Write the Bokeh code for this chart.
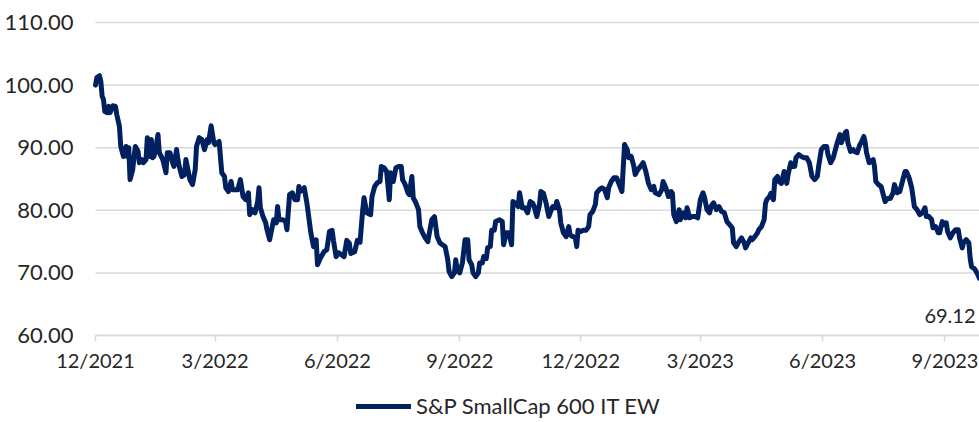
import pandas as pd
from bokeh.plotting import figure
from bokeh.models import (ColumnDataSource, Range1d, FixedTicker, CustomJSTickFormatter,
                          NumeralTickFormatter, Legend, LegendItem, Label)
from bokeh.embed import file_html
from bokeh.resources import INLINE

series_name = "S&P SmallCap 600 IT EW"
start_date = "2021-12-01"

# days after start_date
day_offsets = [
    0, 1, 3, 4, 5, 6, 7, 9, 10, 11, 13, 15, 16, 18, 19, 21, 23, 24, 25, 26, 28, 29, 30, 32, 33, 35, 36, 38, 39,
    41, 42, 43, 44, 46, 47, 48, 50, 51, 53, 54, 56, 58, 59, 61, 62, 63, 65, 67, 68, 70, 71, 73, 75, 76, 78, 80,
    82, 84, 85, 87, 89, 90, 93, 95, 97, 98, 100, 102, 103, 105, 107, 109, 111, 113, 115, 116, 118, 120, 122,
    123, 124, 126, 128, 129, 131, 133, 134, 136, 137, 138, 141, 143, 144, 146, 148, 150, 152, 153, 154, 157,
    159, 161, 162, 164, 166, 167, 169,
    172, 174, 176, 178, 179, 181, 183, 185, 187, 189, 191, 192, 195, 197, 199, 201, 202, 204, 207, 208, 210,
    212, 214, 215, 217, 219, 221, 222, 224, 226, 228, 230, 231, 233, 235, 236, 238, 239, 241, 243, 244, 246,
    248, 250, 252, 253, 255, 257, 259, 261, 263, 265, 266, 268, 270, 271, 272, 274, 276, 278, 280, 281, 283,
    284, 286, 288, 289, 291, 292, 294, 295, 297, 298, 300, 301, 304, 306, 307, 309, 311, 313, 314, 316, 318,
    319, 321, 323, 325, 327, 329, 330, 332, 334, 335, 337, 339, 341, 342, 344, 346, 347, 349, 350, 352, 354,
    356, 357, 359, 361, 362, 363, 365, 367, 369, 371, 372, 374, 376, 377, 379, 381, 383, 385, 386, 388, 390,
    392, 394, 396, 397, 398, 400, 401, 403, 405, 406, 408, 410,
    412, 414, 416, 418, 420, 421, 424, 426, 427, 429, 431, 433, 434, 435, 437, 439, 440, 442, 444, 445, 447,
    449, 451, 453, 455, 457, 458, 460, 462, 463, 465, 467, 469, 471, 473, 475, 477, 479, 480, 482, 484, 486,
    488, 489, 491, 493, 494, 496, 498, 499, 501, 503, 504, 505, 507, 508, 510, 511, 513, 514, 516, 518, 520,
    521, 523, 524, 526, 527, 529, 531, 533, 535, 537, 539, 541, 543, 544, 546, 548, 550, 551, 553, 555, 556,
    558, 560, 561, 562, 564, 565, 566, 568, 570, 571, 573, 575, 576, 578, 579, 580, 582, 585, 586, 587, 589,
    591, 593, 594, 596, 598, 600, 601, 603, 605, 607, 609, 610, 612, 614, 616, 618, 620, 622, 624, 625, 627,
    629, 630, 632, 634, 635, 637, 639, 640, 641, 643, 645, 647, 649, 650, 652, 653, 655, 657, 658, 659, 661,
    662, 664, 665,
]

values = [
    100.0, 101.2, 101.5, 100.6, 98.2, 97.7, 95.8, 95.6, 96.6, 95.6, 96.7, 96.6, 95.3, 93.4, 90.2, 88.6, 90.2,
    88.6, 90.0, 84.9, 86.5, 88.6, 90.2, 89.4, 87.6, 88.1, 87.6, 88.1, 91.6,
    88.6, 91.3, 88.4, 88.6, 90.8, 92.1, 89.2, 88.4, 87.8, 86.0, 89.2, 89.2, 87.6, 87.0, 89.7, 88.1, 87.0, 85.4,
    85.7, 88.1, 86.0, 84.9, 84.1, 86.5, 90.2, 91.6, 91.3,
    89.7, 91.3, 90.8, 93.5, 90.8, 90.5, 91.0, 86.0, 85.4, 83.6, 83.0, 84.6, 83.3, 83.3, 83.3, 84.9, 82.2, 81.7,
    82.8, 79.3, 80.1, 79.6, 81.4,
    83.6, 80.4, 79.0, 78.0, 76.9, 75.3, 77.4, 78.5, 78.0, 80.6, 78.5, 78.5, 78.2, 76.9, 82.5, 82.8, 81.7, 81.7,
    83.8, 83.0, 83.6,
    81.2, 78.0, 76.4, 74.2, 75.3, 71.3, 72.3,
    73.4, 73.7, 76.6, 76.8, 75.2, 72.6, 73.2, 72.9, 72.6, 75.2, 74.7, 73.1, 73.4, 75.2, 74.9, 80.0, 82.0, 79.6,
    79.3, 82.2, 83.8,
    84.4, 84.6, 87.0, 86.8, 86.2, 81.7, 86.0, 84.6, 86.8, 87.0, 87.0, 84.9, 84.1, 82.8, 82.5, 85.4, 82.0, 81.2,
    80.1, 77.4, 76.4,
    75.6, 75.0, 77.4, 78.5, 79.0, 75.8, 74.8, 74.5, 74.2, 72.1, 70.2, 69.4, 70.0, 72.1, 70.5, 70.0, 71.6, 75.3,
    75.3, 72.1, 71.3,
    70.0, 69.4, 70.0, 71.6, 71.6, 72.6, 72.3, 74.0, 74.2, 76.8, 76.8, 78.2, 78.5, 78.2, 74.5, 76.4, 76.4, 74.5,
    81.4, 81.1, 80.6,
    82.8, 80.4, 80.4, 79.6, 81.4, 81.1, 80.6, 79.0, 80.9, 83.0, 82.7, 81.1, 79.0, 79.6, 80.6, 80.4, 81.4, 80.1,
    78.0, 76.4, 75.8,
    77.4, 76.1, 75.8, 75.6, 74.2, 76.8, 76.6, 76.8, 76.8, 77.4, 79.3, 79.8, 80.9, 82.8, 83.3, 83.6, 83.3, 82.0,
    83.6, 84.6, 85.2,
    85.2, 84.1, 83.0, 86.8, 90.5, 89.7, 88.4, 88.6, 87.0, 85.7, 86.5, 87.0,
    87.6, 86.2, 84.3, 83.3, 83.8, 82.8, 82.5, 83.3, 84.6, 83.6, 82.2, 83.0, 82.7, 79.3, 78.2, 80.1, 78.5, 79.6,
    78.8, 80.4, 78.8,
    79.0, 79.0, 78.8, 81.7, 82.8, 82.2, 80.1, 79.6, 80.6, 81.2, 80.1, 80.6, 79.8, 79.6, 78.2, 77.7, 77.2, 74.8,
    74.2, 75.0, 75.6,
    74.8, 74.0, 74.8, 75.6, 75.3, 75.8, 76.4, 76.9, 77.4, 78.5, 81.1, 81.7, 82.2, 82.7, 81.7, 84.9, 85.4, 84.6,
    84.3, 86.2, 84.3,
    85.7, 87.6, 87.0, 87.0, 88.4, 88.9, 88.6, 88.4, 88.4, 87.6, 85.4, 84.9, 85.4, 87.0, 89.7, 90.2, 90.2, 88.9,
    87.6, 88.4, 89.2,
    90.8, 92.1, 90.8, 91.3, 92.4, 92.6, 90.8, 89.4, 89.7, 89.4, 89.2, 90.5, 90.8, 91.8, 90.8, 89.2, 87.6, 88.1,
    87.0, 84.6, 84.1,
    83.8, 82.2, 81.4, 81.9, 81.9, 82.8, 84.1, 82.8, 83.0, 84.6, 86.2, 86.2, 85.2, 83.6, 80.6, 80.1, 79.3, 79.6,
    80.4, 79.0, 79.0,
    78.5, 77.2, 77.4, 76.4, 76.4, 78.2, 77.7, 78.0, 76.6, 75.6, 76.4, 76.9, 76.9, 75.6, 74.0, 74.8, 75.3, 74.8,
    72.3, 71.0, 70.7,
    70.4, 69.6, 69.12,
]

tick_dates = ["2021-12-01", "2022-03-01", "2022-06-01", "2022-09-01",
              "2022-12-01", "2023-03-01", "2023-06-01", "2023-09-01"]
y_ticks = [60, 70, 80, 90, 100, 110]

FONT = "Lato"
TEXT_COLOR = "#262626"
LINE_COLOR = "#002060"
GRID_COLOR = "#d9d9d9"

# ---- layout (pixels) ----
FIG_W, FIG_H = 979, 420
PLOT_LEFT = 95       # where the first date sits, from the figure's left edge
PLOT_TOP = 22        # where the top tick sits, from the figure's top edge
PLOT_H = 313         # pixel height between lowest and highest y tick

dates = pd.Timestamp(start_date) + pd.to_timedelta(day_offsets, unit="D")
source = ColumnDataSource(dict(date=dates, value=values))

d0, d1 = dates[0], dates[-1]
x_start = d0 - (d1 - d0) * PLOT_LEFT / (FIG_W - PLOT_LEFT)
ppu = PLOT_H / (y_ticks[-1] - y_ticks[0])
y_end = y_ticks[-1] + PLOT_TOP / ppu
y_start = y_ticks[0] - (FIG_H - PLOT_TOP - PLOT_H) / ppu

to_ms = lambda t: pd.Timestamp(t).value // 10**6

p = figure(width=FIG_W, height=FIG_H, x_axis_type="datetime",
           x_range=Range1d(x_start.to_pydatetime(), d1.to_pydatetime()),
           y_range=Range1d(y_start, y_end),
           output_backend="svg", toolbar_location=None,
           min_border_left=0, min_border_right=0, min_border_top=0, min_border_bottom=0)
p.outline_line_color = None
p.background_fill_color = "white"
p.border_fill_color = "white"
p.xgrid.grid_line_color = None
p.ygrid.grid_line_color = None

# horizontal gridlines over the data span
n = len(y_ticks)
p.segment(x0=[d0] * n, x1=[d1] * n, y0=y_ticks, y1=y_ticks,
          line_color=GRID_COLOR, line_width=1.5)

r = p.line("date", "value", source=source, line_color=LINE_COLOR, line_width=5,
           line_join="round", line_cap="round")

# x axis, pinned at the lowest y tick
xa = p.xaxis[0]
xa.fixed_location = y_ticks[0]
xa.bounds = (to_ms(d0), to_ms(d1))
xa.ticker = FixedTicker(ticks=[to_ms(d) for d in tick_dates])
xa.formatter = CustomJSTickFormatter(
    code="const d = new Date(tick); return (d.getUTCMonth() + 1) + '/' + d.getUTCFullYear();")
xa.axis_line_color = GRID_COLOR
xa.axis_line_width = 1.5
xa.major_tick_line_color = GRID_COLOR
xa.major_tick_line_width = 1.5
xa.major_tick_in = 0
xa.major_tick_out = 6
xa.minor_tick_line_color = None
xa.major_label_text_font = FONT
xa.major_label_text_font_size = "20px"
xa.major_label_text_color = TEXT_COLOR
xa.major_label_standoff = 6

# y axis, pinned at the first date
ya = p.yaxis[0]
ya.fixed_location = to_ms(d0)
ya.ticker = FixedTicker(ticks=y_ticks)
ya.formatter = NumeralTickFormatter(format="0.00")
ya.axis_line_color = None
ya.major_tick_line_color = None
ya.minor_tick_line_color = None
ya.major_label_text_font = FONT
ya.major_label_text_font_size = "22px"
ya.major_label_text_color = TEXT_COLOR
ya.major_label_standoff = 16

# end value label
p.add_layout(Label(x=d1.to_pydatetime(), y=values[-1], text=f"{values[-1]:.2f}",
                   x_offset=-4, y_offset=-38, text_align="right", text_baseline="middle",
                   text_font=FONT, text_font_size="20px", text_color=TEXT_COLOR))

legend = Legend(items=[LegendItem(label=series_name, renderers=[r])],
                location=(356, 1), orientation="horizontal",
                border_line_color=None, background_fill_alpha=0,
                padding=0, margin=0, glyph_width=55, glyph_height=16, label_height=16,
                label_standoff=5,
                label_text_font=FONT, label_text_font_size="22px", label_text_color=TEXT_COLOR)
p.add_layout(legend)

open("out.html", "w").write(file_html(p, INLINE))
